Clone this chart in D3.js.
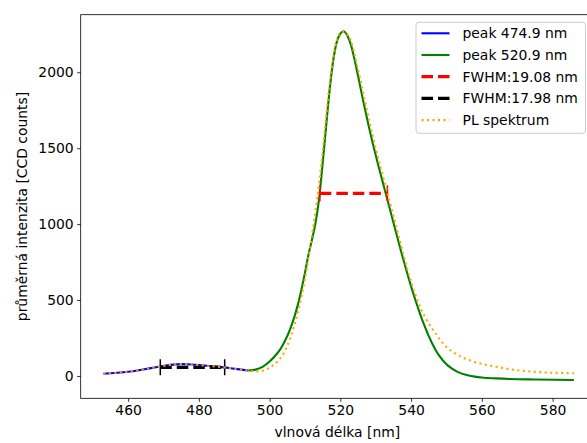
<!DOCTYPE html>
<html>
<head>
<meta charset="utf-8">
<script src="https://cdn.jsdelivr.net/npm/d3@7"></script>
<style>
  body { margin: 0; background: #fff; }
  text { font-family: "DejaVu Sans", sans-serif; }
</style>
</head>
<body>
<div id="chart"></div>
<script>
// PL spectrum with two fitted peaks and their FWHM markers

// ---------------- data ----------------
// blue fit - small peak
var blueWave   = [453, 456, 460, 463, 466, 469, 472, 475, 478, 481, 484, 487, 490, 492, 494];
var blueCounts = [15, 20, 28, 38, 50, 62, 73, 78, 76, 70, 64, 57, 48, 42, 36];

// green fit - main peak
var greenWave   = [494, 496, 498, 500, 502, 503, 504, 506, 508, 510, 511, 512, 513, 514, 515, 516, 517, 518, 519, 520, 520.9,
                   522, 523, 524, 525, 526, 527, 528, 529, 530, 531, 532, 533, 534, 535, 536, 537, 538, 539, 540,
                   541, 542, 543, 544, 545, 546, 547, 548, 549, 550, 551, 552, 553, 554, 555, 556, 558, 560, 564, 568, 575, 586];
var greenCounts = [36, 42, 60, 95, 145, 175, 215, 320, 470, 680, 800, 900, 1010, 1170, 1400, 1650, 1890, 2080, 2200, 2255, 2270,
                   2240, 2180, 2085, 1975, 1863, 1753, 1648, 1548, 1453, 1363, 1275, 1187, 1099, 1011, 923, 835, 750, 668, 590,
                   515, 445, 378, 318, 262, 212, 168, 132, 102, 78, 58, 42, 29, 19, 11, 5, -4, -10, -16, -20, -23, -26];

// measured PL spectrum
var plWave   = [453, 456, 460, 463, 466, 469, 472, 475, 478, 481, 484, 487, 490, 492, 494, 496, 498, 500, 502, 504, 506, 508,
                510, 511, 512, 513, 514, 515, 516, 517, 518, 519, 520, 521, 522, 523, 524, 525, 526, 527, 528, 529, 530,
                531, 532, 533, 534, 535, 536, 537, 538, 539, 540, 541, 542, 543, 544, 545, 546, 547, 548, 549, 550,
                552, 554, 556, 558, 560, 562, 565, 568, 572, 576, 580, 586];
var plCounts = [15, 20, 28, 38, 50, 62, 73, 78, 76, 70, 64, 57, 48, 42, 35, 30, 35, 55, 90, 150, 260, 420,
                640, 780, 930, 1090, 1270, 1480, 1710, 1930, 2100, 2210, 2260, 2265, 2250, 2205, 2120, 2020, 1915, 1805, 1700, 1598, 1500,
                1408, 1320, 1232, 1144, 1056, 965, 875, 785, 700, 620, 550, 487, 432, 385, 345, 310, 278, 245, 215, 190,
                155, 128, 108, 92, 80, 70, 57, 44, 33, 26, 21, 18];

// FWHM bars: [red, black]
var fwhmStart  = [514.2, 469.1];
var fwhmEnd    = [533.3, 487.3];
var fwhmLevel  = [1203, 57];
var fwhmColors = ["#ff0000", "#000000"];

// axes ticks and legend
var xTicks = [460, 480, 500, 520, 540, 560, 580];
var yTicks = [0, 500, 1000, 1500, 2000];
var legendLabels = ["peak 474.9 nm", "peak 520.9 nm", "FWHM:19.08 nm", "FWHM:17.98 nm", "PL spektrum"];

// ---------------- layout ----------------
var svgWidth = 587;
var svgHeight = 443;
var plotLeft = 80.7, plotRight = 594, plotTop = 14.7, plotBottom = 398.3;
var fs = 13.9; // 10pt at 100 dpi

var svg = d3.select("#chart")
  .append("svg")
  .attr("width", svgWidth)
  .attr("height", svgHeight)
  .style("display", "block");

svg.append("rect").attr("width", svgWidth).attr("height", svgHeight).attr("fill", "#fff");

var x = d3.scaleLinear().domain([446.6, 591.7]).range([plotLeft, plotRight]);
var y = d3.scaleLinear().domain([-146.9, 2379]).range([plotBottom, plotTop]);

// clip for data
svg.append("clipPath").attr("id", "plotclip")
  .append("rect")
  .attr("x", plotLeft).attr("y", plotTop)
  .attr("width", plotRight - plotLeft).attr("height", plotBottom - plotTop);

var plot = svg.append("g").attr("clip-path", "url(#plotclip)");

function zip(xs, ys) {
  return xs.map(function(v, i) { return [v, ys[i]]; });
}

var line = d3.line()
  .x(d => x(d[0]))
  .y(d => y(d[1]))
  .curve(d3.curveMonotoneX);

// blue + green fits
plot.append("path")
  .datum(zip(blueWave, blueCounts))
  .attr("d", line)
  .attr("fill", "none")
  .attr("stroke", "#0000ff")
  .attr("stroke-width", 2.1);

plot.append("path")
  .datum(zip(greenWave, greenCounts))
  .attr("d", line)
  .attr("fill", "none")
  .attr("stroke", "#008000")
  .attr("stroke-width", 2.1);

// FWHM dashed bars with end markers
fwhmStart.forEach(function(s, i) {
  var yy = y(fwhmLevel[i]);
  plot.append("line")
    .attr("x1", x(s)).attr("x2", x(fwhmEnd[i]))
    .attr("y1", yy).attr("y2", yy)
    .attr("stroke", fwhmColors[i])
    .attr("stroke-width", 3.2)
    .attr("stroke-dasharray", "11.5,5");
  [s, fwhmEnd[i]].forEach(function(e) {
    plot.append("line")
      .attr("x1", x(e)).attr("x2", x(e))
      .attr("y1", yy - 8).attr("y2", yy + 8)
      .attr("stroke", fwhmColors[i])
      .attr("stroke-width", 1.5);
  });
});

// PL spectrum dotted on top
plot.append("path")
  .datum(zip(plWave, plCounts))
  .attr("d", line)
  .attr("fill", "none")
  .attr("stroke", "#ffa500")
  .attr("stroke-width", 2.1)
  .attr("stroke-dasharray", "2.1,3.4");

// ---------------- axes ----------------
var xAxis = svg.append("g")
  .attr("transform", `translate(0, ${plotBottom})`)
  .call(d3.axisBottom(x).tickValues(xTicks).tickFormat(d3.format("d")).tickSize(3.5).tickPadding(3.5).tickSizeOuter(0));

var yAxis = svg.append("g")
  .attr("transform", `translate(${plotLeft}, 0)`)
  .call(d3.axisLeft(y).tickValues(yTicks).tickFormat(d3.format("d")).tickSize(3.5).tickPadding(3.5).tickSizeOuter(0));

[xAxis, yAxis].forEach(function(a) {
  a.select(".domain").remove();
  a.selectAll("line").attr("stroke", "#000").attr("stroke-width", 0.8);
  a.selectAll("text")
    .attr("fill", "#000")
    .style("font-size", fs + "px")
    .style("font-family", "DejaVu Sans");
});

// spines
svg.append("rect")
  .attr("x", plotLeft).attr("y", plotTop)
  .attr("width", plotRight - plotLeft).attr("height", plotBottom - plotTop)
  .attr("fill", "none")
  .attr("stroke", "#000")
  .attr("stroke-width", 0.8);

// axis labels
svg.append("text")
  .attr("x", (plotLeft + plotRight) / 2)
  .attr("y", 437)
  .attr("text-anchor", "middle")
  .style("font-size", fs + "px")
  .text("vlnová délka [nm]");

svg.append("text")
  .attr("transform", `translate(27, ${(plotTop + plotBottom) / 2}) rotate(-90)`)
  .attr("text-anchor", "middle")
  .style("font-size", fs + "px")
  .text("průměrná intenzita [CCD counts]");

// ---------------- legend ----------------
var legend = svg.append("g");
legend.append("rect")
  .attr("x", 416).attr("y", 22.3)
  .attr("width", 169.5).attr("height", 111)
  .attr("rx", 3)
  .attr("fill", "#fff")
  .attr("fill-opacity", 0.8)
  .attr("stroke", "#cccccc")
  .attr("stroke-width", 1);

var legendStroke = ["#0000ff", "#008000", "#ff0000", "#000000", "#ffa500"];
var legendDash = [null, null, "11.5,5", "11.5,5", "2.1,3.4"];
var legendWidth = [2.1, 2.1, 3.2, 3.2, 2.1];

legendLabels.forEach(function(lbl, i) {
  var ly = 33.3 + i * 21.7;
  legend.append("line")
    .attr("x1", 421.5).attr("x2", 449.5)
    .attr("y1", ly).attr("y2", ly)
    .attr("stroke", legendStroke[i])
    .attr("stroke-width", legendWidth[i])
    .attr("stroke-dasharray", legendDash[i]);
  legend.append("text")
    .attr("x", 462.5)
    .attr("y", ly + 5)
    .style("font-size", fs + "px")
    .text(lbl);
});
</script>
</body>
</html>
